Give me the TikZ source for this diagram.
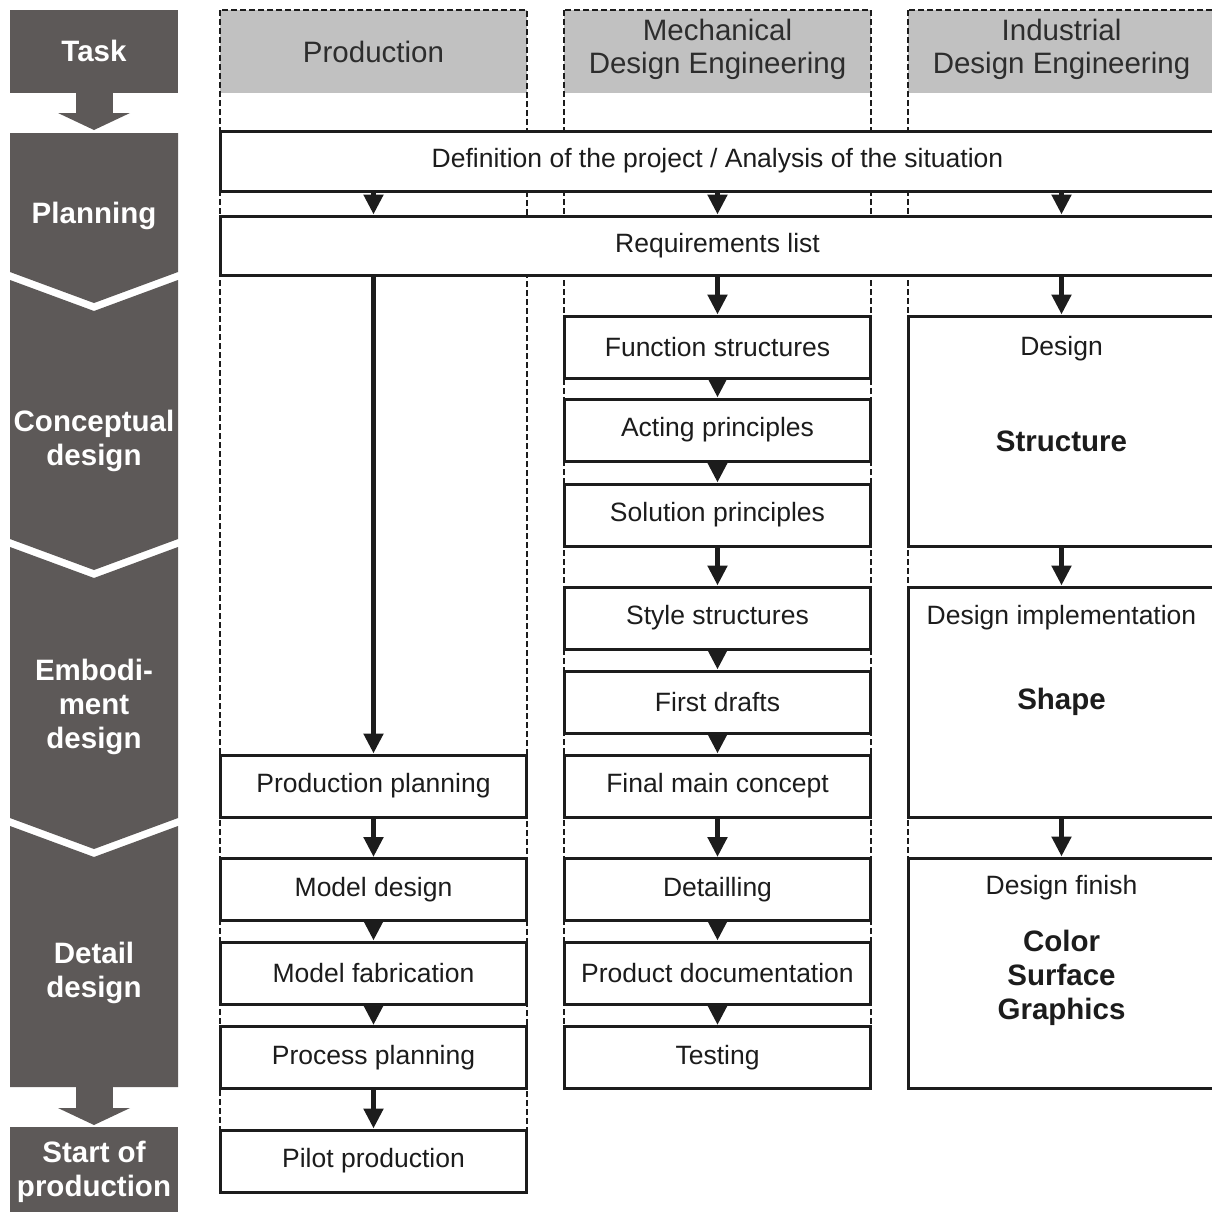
\documentclass[tikz,border=0pt]{standalone}
\usepackage{fontspec}
\setmainfont{Liberation Sans}
\usetikzlibrary{arrows.meta,calc}
\definecolor{phase}{RGB}{93,89,88}
\definecolor{headgray}{RGB}{193,193,193}
\definecolor{ink}{RGB}{28,28,28}
\definecolor{headink}{RGB}{45,45,45}
\newcommand\bodyfnt{\fontsize{26.5}{32}\selectfont}
\newcommand\bigfnt{\fontsize{29.5}{34}\selectfont}
\begin{document}
\begin{tikzpicture}[x=1pt,y=-1pt,
  box/.style={draw=ink, line width=3pt, fill=white, inner sep=0pt, minimum width=306pt, minimum height=62pt, font=\bodyfnt, text=ink},
  tallbox/.style={box, minimum height=230pt},
  widebox/.style={box, minimum width=995pt},
  colframe/.style={draw=ink, line width=1.6pt, dash pattern=on 6pt off 3pt},
  headtext/.style={font=\fontsize{29.5}{33}\selectfont, text=headink, align=center},
  phasetext/.style={font=\bigfnt\bfseries, text=white, align=center},
  itext/.style={font=\bodyfnt, text=ink},
  ibold/.style={font=\bigfnt\bfseries, text=ink, align=center},
  arr/.style={draw=ink, line width=5pt, -{Triangle[length=20pt,width=19pt]}},
]
\useasboundingbox (0,0) rectangle (1212,1211);
\clip (0,0) rectangle (1212,1211);

% column headers and dashed frames
\fill[headgray] (220,10) rectangle (527,93);
\fill[headgray] (564,10) rectangle (871,93);
\fill[headgray] (908,10) rectangle (1215,93);
\draw[colframe] (220,10) rectangle (527,1192);
\draw[colframe] (564,10) rectangle (871,1088);
\draw[colframe] (908,10) rectangle (1215,1088);
\node[headtext] (hprod) at (373.5,51.5) {Production};
\node[headtext] (hmech) at (717.5,49) {Mechanical\\Design Engineering};
\node[headtext] (hind) at (1061.5,49) {Industrial\\Design Engineering};

% wide boxes
\node[widebox, minimum height=60pt] (def) at (717.5,161) {Definition of the project / Analysis of the situation};
\node[widebox, minimum height=59pt] (req) at (717.5,245.5) {Requirements list};

% mechanical column
\node[box] (func) at (717.5,347) {Function structures};
\node[box] (act) at (717.5,430) {Acting principles};
\node[box] (sol) at (717.5,515) {Solution principles};
\node[box] (sty) at (717.5,618) {Style structures};
\node[box] (draft) at (717.5,702) {First drafts};
\node[box] (fmc) at (717.5,786) {Final main concept};
\node[box] (det) at (717.5,889.5) {Detailling};
\node[box] (pdoc) at (717.5,973) {Product documentation};
\node[box] (test) at (717.5,1057.5) {Testing};

% production column
\node[box] (pplan) at (373.5,786) {Production planning};
\node[box] (mdes) at (373.5,889.5) {Model design};
\node[box] (mfab) at (373.5,973) {Model fabrication};
\node[box] (proc) at (373.5,1057.5) {Process planning};
\node[box] (pilot) at (373.5,1161) {Pilot production};

% industrial column
\node[tallbox] (ides) at (1061.5,431) {};
\node[tallbox] (iimp) at (1061.5,702) {};
\node[tallbox] (ifin) at (1061.5,973) {};
\node[itext] (tdes) at (1061.5,349) {Design};
\node[ibold] (tstr) at (1061.5,441) {Structure};
\node[itext] (timp) at (1061.5,618) {Design implementation};
\node[ibold] (tshp) at (1061.5,702) {Shape};
\node[itext] (tfin) at (1061.5,888) {Design finish};
\node[ibold] (tcol) at (1061.5,978) {Color\\Surface\\Graphics};

% arrows
\draw[arr] (def.south -| hprod) -- (req.north -| hprod);
\draw[arr] (def.south -| hmech) -- (req.north -| hmech);
\draw[arr] (def.south -| hind) -- (req.north -| hind);
\draw[arr] (req.south -| pplan) -- (pplan.north);
\draw[arr] (req.south -| func) -- (func.north);
\draw[arr] (req.south -| ides) -- (ides.north);
\draw[arr] (func.south) -- (act.north);
\draw[arr] (act.south) -- (sol.north);
\draw[arr] (sol.south) -- (sty.north);
\draw[arr] (sty.south) -- (draft.north);
\draw[arr] (draft.south) -- (fmc.north);
\draw[arr] (fmc.south) -- (det.north);
\draw[arr] (det.south) -- (pdoc.north);
\draw[arr] (pdoc.south) -- (test.north);
\draw[arr] (ides.south) -- (iimp.north);
\draw[arr] (iimp.south) -- (ifin.north);
\draw[arr] (pplan.south) -- (mdes.north);
\draw[arr] (mdes.south) -- (mfab.north);
\draw[arr] (mfab.south) -- (proc.north);
\draw[arr] (proc.south) -- (pilot.north);

% phase column
\fill[phase] (10,10) rectangle (178,93);
\fill[phase] (76,92) rectangle (113,113);
\fill[phase] (58,113) -- (130,113) -- (94,130) -- cycle;
\fill[phase] (10,133) -- (178,133) -- (178,272) -- (94,303) -- (10,272) -- cycle;
\fill[phase] (10,280) -- (94,311) -- (178,280) -- (178,539) -- (94,570) -- (10,539) -- cycle;
\fill[phase] (10,547) -- (94,578) -- (178,547) -- (178,818) -- (94,849) -- (10,818) -- cycle;
\fill[phase] (10,826) -- (94,857) -- (178,826) -- (178,1087) -- (10,1087) -- cycle;
\fill[phase] (76,1086) rectangle (113,1108);
\fill[phase] (58,1108) -- (130,1108) -- (94,1125) -- cycle;
\fill[phase] (10,1127) rectangle (178,1215);
\node[phasetext] (ptask) at (94,51) {Task};
\node[phasetext] (pplanning) at (94,216) {Planning};
\node[phasetext] (pconc) at (94,441) {Conceptual\\design};
\node[phasetext] (pemb) at (94,707) {Embodi-\\ment\\design};
\node[phasetext] (pdet) at (94,973) {Detail\\design};
\node[phasetext] (psop) at (94,1172) {Start of\\production};
\end{tikzpicture}
\end{document}
